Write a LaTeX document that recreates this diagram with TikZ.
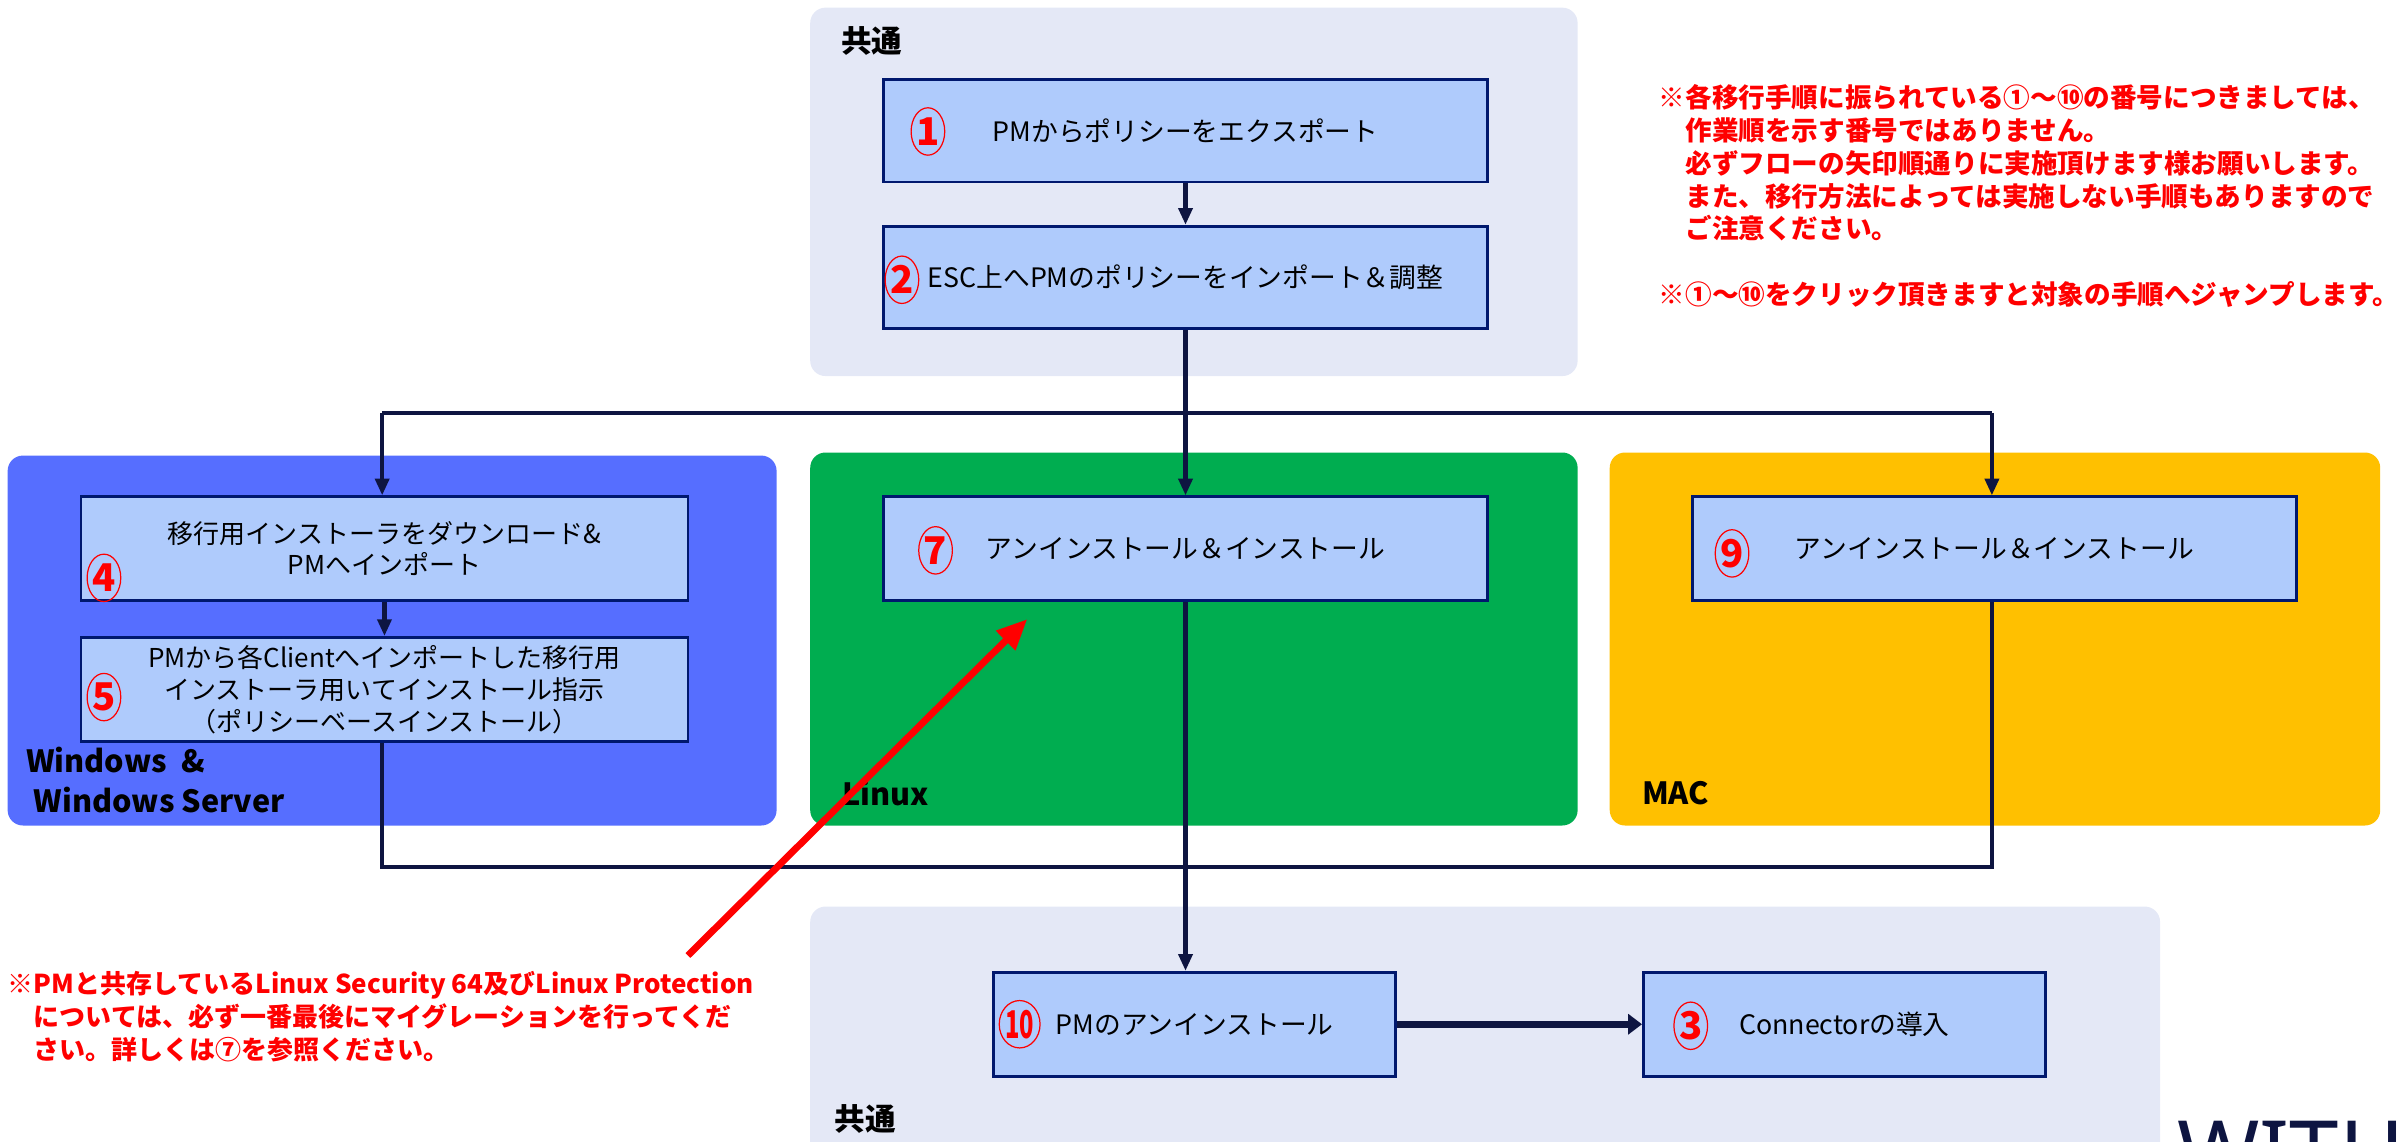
\documentclass[tikz,border=0pt]{standalone}
\usepackage{fontspec}
\setmainfont{Noto Sans CJK JP}
\newfontfamily\brandfont{Noto Sans}
\usetikzlibrary{arrows.meta,shapes.geometric}
\definecolor{panelgray}{RGB}{228,232,246}
\definecolor{boxblue}{RGB}{175,203,252}
\definecolor{boxline}{RGB}{0,24,110}
\definecolor{flowline}{RGB}{14,21,65}
\definecolor{winblue}{RGB}{86,110,255}
\definecolor{linuxgreen}{RGB}{0,173,80}
\definecolor{macyellow}{RGB}{255,192,0}
\begin{document}
\begin{tikzpicture}[x=1pt,y=-1pt,
		panel/.style={rounded corners=10pt},
		stepbox/.style={draw=boxline,line width=1.8pt,fill=boxblue,minimum width=395pt,minimum height=68pt,inner sep=0pt,align=center,font=\fontsize{17.5}{20}\selectfont},
		num/.style={ellipse,draw=red,line width=0.8pt,text=red,inner sep=0pt,minimum width=22pt,minimum height=31pt,font=\bfseries\fontsize{25}{25}\selectfont},
		flow/.style={draw=flowline,line width=2.8pt},
		flowarrow/.style={flow,-{Triangle[length=11pt,width=9pt]}},
		tag/.style={inner sep=0pt,align=left,font=\bfseries\fontsize{20}{26}\selectfont},
		note/.style={inner sep=0pt,align=left,text=red,font=\bfseries\fontsize{17.4}{21.5}\selectfont}]
		\useasboundingbox (0,0) rectangle (1568,747);
		\clip (0,0) rectangle (1568,747);
		\fill[panelgray,panel] (530,5) rectangle (1032,246);
		\fill[winblue,panel] (5,298) rectangle (508,540);
		\fill[linuxgreen,panel] (530,296) rectangle (1032,540);
		\fill[macyellow,panel] (1053,296) rectangle (1557,540);
		\fill[panelgray,panel] (530,593) rectangle (1413,775);
		\node[tag,anchor=west] (topcommon) at (550,27) {共通};
		\node[tag,anchor=west] (wintag) at (17,510) {Windows \ \&\\\hspace*{5pt}Windows Server};
		\node[tag,anchor=west] (linuxtag) at (551,519) {Linux};
		\node[tag,anchor=west] (mactag) at (1074,519) {MAC};
		\node[tag,anchor=west] (bottomcommon) at (546,732) {共通};
		\node[stepbox,minimum height=67pt] (s1) at (775.5,85.5) {PMからポリシーをエクスポート};
		\node[stepbox,minimum height=67pt] (s2) at (775.5,181.5) {ESC上へPMのポリシーをインポート＆調整};
		\node[stepbox,minimum width=397pt,font=\fontsize{17}{20}\selectfont] (s4) at (251.5,359) {移行用インストーラをダウンロード\&\\PMへインポート};
		\node[stepbox,minimum width=397pt,font=\fontsize{17}{21}\selectfont] (s5) at (251.5,451) {PMから各Clientへインポートした移行用\\インストーラ用いてインストール指示\\（ポリシーベースインストール）};
		\node[stepbox] (s7) at (775.5,359) {アンインストール＆インストール};
		\node[stepbox] (s9) at (1304.5,359) {アンインストール＆インストール};
		\node[stepbox,minimum width=263pt] (s10) at (781.5,670) {PMのアンインストール};
		\node[stepbox,minimum width=263pt] (s3) at (1206.5,670) {Connectorの導入};
		\foreach \k/\x/\y in {1/607/86, 2/590/183, 4/68/378, 5/68/456, 7/612/360, 9/1133/362, 3/1106/671}
		{
			\node[num] (n\k) at (\x,\y) {\k};
		}
		\node[num] (n10) at (667,670) {\scalebox{0.62}[1]{10}};
		\coordinate (forkL) at (250,270);
		\coordinate (forkR) at (1303,270);
		\coordinate (joinL) at (250,567);
		\coordinate (joinR) at (1303,567);
		\draw[flowarrow] (s1.south) -- (s2.north);
		\draw[flow] (s2.south) -- (s2.south |- forkL);
		\draw[flow] (forkL) -- (forkR);
		\draw[flowarrow] (forkL) -- (forkL |- s4.north);
		\draw[flowarrow] (s2.south |- forkL) -- (s7.north);
		\draw[flowarrow] (forkR) -- (forkR |- s9.north);
		\draw[flowarrow] (s4.south) -- (s5.north);
		\draw[flow] (joinL |- s5.south) -- (joinL) -- (joinR) -- (joinR |- s9.south);
		\draw[flowarrow] (s7.south) -- (s7.south |- s10.north);
		\draw[flow,line width=4.5pt,-{Triangle[length=9pt,width=13pt]}] (s10.east) -- (s3.west);
		\node[note,anchor=north west] (topnote) at (1085,55) {※各移行手順に振られている①～⑩の番号につきましては、\\　作業順を示す番号ではありません。\\　必ずフローの矢印順通りに実施頂けます様お願いします。\\　また、移行方法によっては実施しない手順もありますので\\　ご注意ください。\\[21.5pt]※①～⑩をクリック頂きますと対象の手順へジャンプします。};
		\node[note,anchor=north west,font=\bfseries\fontsize{17}{21.5}\selectfont] (linuxnote) at (5,635) {※PMと共存しているLinux Security 64及びLinux Protection\\　については、必ず一番最後にマイグレーションを行ってくだ\\　さい。詳しくは⑦を参照ください。};
		\coordinate (hintfrom) at (450,625);
		\coordinate (hintto) at (672,405);
		\draw[red,line width=4.5pt,-{Triangle[length=20pt,width=17pt]}] (hintfrom) -- (hintto);
		\node[anchor=north west,inner sep=0pt,text=flowline,font=\brandfont\fontsize{58}{58}\selectfont] (brand) at (1424,733) {WITH};
	\end{tikzpicture}
\end{document}
